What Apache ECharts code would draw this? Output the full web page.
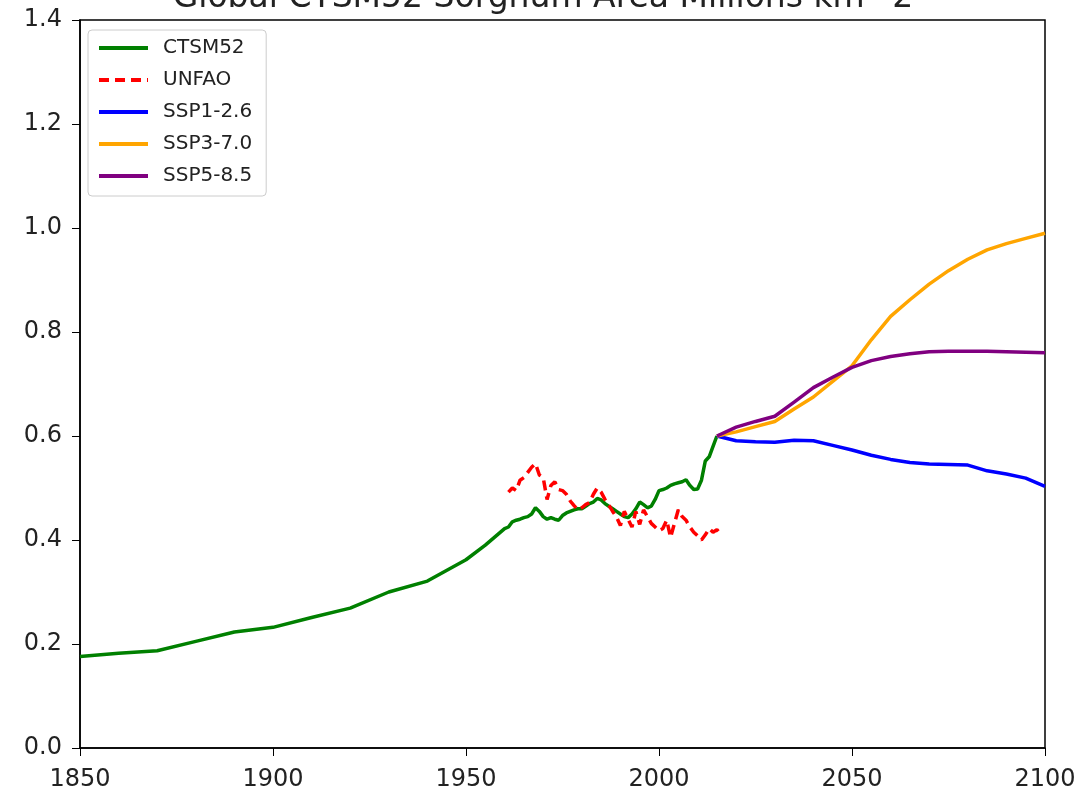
<!DOCTYPE html>
<html>
<head>
<meta charset="utf-8">
<script src="https://cdn.jsdelivr.net/npm/echarts@6/dist/echarts.min.js"></script>
<style>
  html, body { margin: 0; padding: 0; background: #fff; }
  #main { width: 1086px; height: 795px; }
</style>
</head>
<body>
<div id="main"></div>
<script>
// CTSM52 historical sorghum area
var ctsmYears = [1850, 1860, 1870, 1880, 1890, 1900, 1910, 1920, 1930, 1940, 1950, 1955, 1960,
  1961, 1962, 1963, 1964, 1965, 1966, 1967, 1968, 1969, 1970, 1971, 1972, 1973, 1974, 1975,
  1976, 1977, 1978, 1979, 1980, 1981, 1982, 1983, 1984, 1985, 1986, 1987, 1988, 1989, 1990,
  1991, 1992, 1993, 1994, 1995, 1996, 1997, 1998, 1999, 2000, 2001, 2002, 2003, 2004, 2005,
  2006, 2007, 2008, 2009, 2010, 2011, 2012, 2013, 2014, 2015];
var ctsmValues = [0.176, 0.182, 0.187, 0.205, 0.223, 0.232, 0.251, 0.269, 0.300, 0.321, 0.362, 0.390, 0.422,
  0.425, 0.435, 0.438, 0.440, 0.443, 0.445, 0.450, 0.462, 0.455, 0.445, 0.440, 0.443, 0.440, 0.438, 0.447,
  0.452, 0.455, 0.458, 0.460, 0.460, 0.465, 0.470, 0.473, 0.480, 0.477, 0.470, 0.465, 0.460, 0.455, 0.450,
  0.445, 0.443, 0.450, 0.460, 0.473, 0.468, 0.462, 0.465, 0.478, 0.495, 0.497, 0.500, 0.505, 0.508, 0.510,
  0.512, 0.516, 0.505, 0.497, 0.498, 0.515, 0.552, 0.560, 0.580, 0.600];

// UN FAO observations
var faoYears = [1961, 1962, 1963, 1964, 1965, 1966, 1967, 1968, 1969, 1970, 1971, 1972, 1973, 1974,
  1975, 1976, 1977, 1978, 1979, 1980, 1981, 1982, 1983, 1984, 1985, 1986, 1987, 1988, 1989, 1990,
  1991, 1992, 1993, 1994, 1995, 1996, 1997, 1998, 1999, 2000, 2001, 2002, 2003, 2004, 2005, 2006,
  2007, 2008, 2009, 2010, 2011, 2012, 2013, 2014, 2015, 2016];
var faoValues = [0.492, 0.500, 0.495, 0.515, 0.520, 0.530, 0.540, 0.547, 0.525, 0.520, 0.478, 0.505, 0.512, 0.497,
  0.495, 0.488, 0.475, 0.466, 0.458, 0.462, 0.468, 0.472, 0.488, 0.500, 0.492, 0.478, 0.467, 0.455, 0.444, 0.428,
  0.455, 0.440, 0.425, 0.455, 0.430, 0.458, 0.445, 0.432, 0.425, 0.418, 0.422, 0.438, 0.405, 0.432, 0.458, 0.445,
  0.438, 0.425, 0.415, 0.408, 0.400, 0.410, 0.422, 0.415, 0.420, 0.410];

// scenarios
var sspYears = [2015, 2020, 2025, 2030, 2035, 2040, 2045, 2050, 2055, 2060, 2065, 2070, 2075, 2080, 2085, 2090, 2095, 2100];
var ssp126 = [0.600, 0.591, 0.589, 0.588, 0.592, 0.591, 0.582, 0.573, 0.563, 0.555, 0.549, 0.546, 0.545, 0.544, 0.533, 0.527, 0.519, 0.503];
var ssp370 = [0.600, 0.608, 0.618, 0.628, 0.652, 0.675, 0.705, 0.735, 0.785, 0.830, 0.862, 0.892, 0.918, 0.940, 0.958, 0.970, 0.980, 0.990];
var ssp585 = [0.600, 0.617, 0.628, 0.638, 0.665, 0.693, 0.713, 0.732, 0.745, 0.753, 0.758, 0.762, 0.763, 0.763, 0.763, 0.762, 0.761, 0.760];

function zip(xs, ys) {
  return xs.map(function (x, i) { return [x, ys[i]]; });
}

var myChart = echarts.init(document.getElementById('main'));
var txt = '#222';

function line(name, xs, ys, color, type) {
  return {
    name: name,
    type: 'line',
    data: zip(xs, ys),
    showSymbol: false,
    symbol: 'none',
    animation: false,
    lineStyle: { color: color, width: 3.5, type: type || 'solid' },
    itemStyle: { color: color }
  };
}

var option = {
  backgroundColor: '#fff',
  textStyle: { fontFamily: 'DejaVu Sans' },
  title: {
    text: 'Global CTSM52 Sorghum Area Millions km^2',
    left: 'center',
    top: -23,
    textStyle: { fontFamily: 'DejaVu Sans', fontSize: 33, fontWeight: 'normal', color: txt }
  },
  legend: {
    orient: 'vertical',
    left: 88,
    top: 30,
    padding: [8, 14, 10, 9],
    itemGap: 12,
    itemWidth: 49,
    itemHeight: 19,
    backgroundColor: '#fff',
    borderColor: '#ccc',
    borderWidth: 1,
    borderRadius: 4,
    itemStyle: { opacity: 0 },
    lineStyle: { width: 4 },
    textStyle: { fontFamily: 'DejaVu Sans', fontSize: 20, color: txt, padding: [0, 0, 0, 10] },
    data: ['CTSM52', 'UNFAO', 'SSP1-2.6', 'SSP3-7.0', 'SSP5-8.5']
  },
  grid: {
    left: 80,
    right: 41,
    top: 20,
    bottom: 47,
    show: true,
    borderColor: '#000',
    borderWidth: 1.5
  },
  xAxis: {
    type: 'value',
    min: 1850,
    max: 2100,
    interval: 50,
    splitLine: { show: false },
    axisLine: { lineStyle: { color: '#000', width: 1.5 } },
    axisTick: { inside: false, length: 8, lineStyle: { color: '#000' } },
    axisLabel: {
      fontSize: 24, color: txt, margin: 20,
      formatter: function (v) { return String(v); }
    }
  },
  yAxis: {
    type: 'value',
    min: 0,
    max: 1.4,
    interval: 0.2,
    splitLine: { show: false },
    axisLine: { show: true, lineStyle: { color: '#000', width: 1.5 } },
    axisTick: { show: true, length: 8, lineStyle: { color: '#000' } },
    axisLabel: {
      fontSize: 24, color: txt, margin: 18,
      formatter: function (v) { return v.toFixed(1); }
    }
  },
  series: [
    line('CTSM52', ctsmYears, ctsmValues, '#008000'),
    line('UNFAO', faoYears, faoValues, '#ff0000', [10, 6]),
    line('SSP1-2.6', sspYears, ssp126, '#0000ff'),
    line('SSP3-7.0', sspYears, ssp370, '#ffa500'),
    line('SSP5-8.5', sspYears, ssp585, '#800080')
  ]
};

myChart.setOption(option);
</script>
</body>
</html>
